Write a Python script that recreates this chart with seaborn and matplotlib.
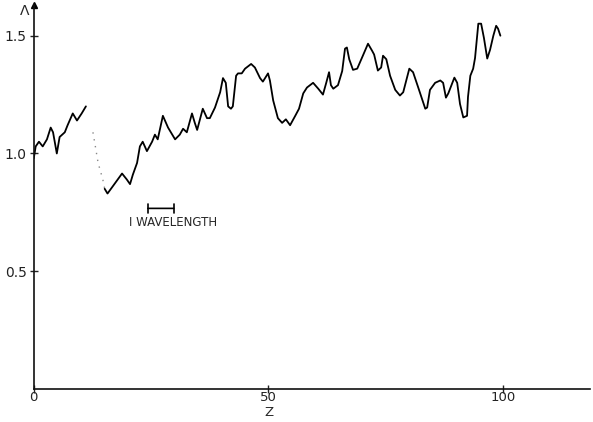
import numpy as np
import pandas as pd
import matplotlib
matplotlib.use("Agg")
import matplotlib.pyplot as plt
import seaborn as sns

# traced curve, left piece
seg1_z = [0.0, 0.4, 1.1, 1.9, 2.8, 3.6, 4.1, 4.9, 5.5, 6.6, 7.2, 8.3, 9.2, 10.2, 11.1]
seg1_a = [0.98, 1.03, 1.05, 1.03, 1.06, 1.11, 1.09, 1.00, 1.07, 1.09, 1.12, 1.17, 1.14, 1.17, 1.20]

# faint part of the scan
gap_z = [12.6, 13.2, 13.7, 14.7, 15.1]
gap_a = [1.09, 1.02, 0.96, 0.89, 0.85]

# main piece
seg2_z = [15.1, 15.7, 16.8, 18.8, 19.8, 20.5, 21.1, 22.0, 22.6, 23.2, 24.1, 25.2, 25.8,
          26.4, 27.5, 28.6, 30.1, 31.1, 31.8, 32.6, 33.7, 34.3, 34.8, 36.0, 36.9, 37.5,
          38.6, 39.7, 40.3, 40.9, 41.4, 42.0, 42.4, 43.1, 43.5, 44.3, 45.0, 46.3, 47.1,
          48.2, 48.8, 49.9, 50.3, 51.0, 52.0, 52.9, 53.7, 54.6, 55.7, 56.5, 57.4, 58.2,
          59.5, 60.6, 61.6, 62.3, 62.9, 63.3, 63.8, 64.8, 65.7, 66.3, 66.7, 67.2, 68.0,
          68.9, 70.1, 71.2, 72.1, 72.5, 73.3, 74.0, 74.4, 75.1, 75.9, 77.0, 78.0, 78.7,
          80.0, 80.8, 81.9, 83.4, 83.8, 84.4, 85.5, 86.6, 87.2, 87.8, 88.3, 89.6, 90.2,
          90.8, 91.5, 92.3, 92.5, 93.0, 93.6, 94.0, 94.7, 95.3, 95.9, 96.6, 97.2, 97.9,
          98.5, 98.9, 99.4]
seg2_a = [0.85, 0.83, 0.86, 0.915, 0.89, 0.87, 0.91, 0.96, 1.03, 1.05, 1.01, 1.05, 1.08,
          1.06, 1.16, 1.11, 1.06, 1.08, 1.105, 1.09, 1.17, 1.13, 1.10, 1.19, 1.15, 1.15,
          1.195, 1.26, 1.32, 1.30, 1.20, 1.19, 1.20, 1.33, 1.34, 1.34, 1.36, 1.38, 1.365,
          1.32, 1.305, 1.34, 1.31, 1.225, 1.15, 1.13, 1.145, 1.12, 1.16, 1.19, 1.255, 1.28,
          1.30, 1.275, 1.25, 1.30, 1.345, 1.29, 1.275, 1.29, 1.35, 1.445, 1.45, 1.40, 1.355,
          1.36, 1.415, 1.466, 1.435, 1.42, 1.352, 1.365, 1.415, 1.40, 1.33, 1.27, 1.246, 1.26,
          1.36, 1.345, 1.28, 1.19, 1.195, 1.27, 1.30, 1.31, 1.30, 1.237, 1.255, 1.322, 1.30,
          1.21, 1.153, 1.16, 1.24, 1.33, 1.36, 1.405, 1.551, 1.551, 1.49, 1.403, 1.44, 1.50,
          1.542, 1.53, 1.50]

xticks = [0, 50, 100]
yticks = [0.5, 1.0, 1.5]
ytick_labels = ["0.5", "1.0", "1.5"]

sns.set_style("ticks")
plt.rcParams['font.family'] = ['DejaVu Sans']

fig = plt.figure(figsize=(5.93, 4.22), dpi=100)
ax = fig.add_axes([0.057, 0.078, 0.938, 0.91])

line_kw = dict(solid_joinstyle="round", solid_capstyle="round")
sns.lineplot(x=seg1_z, y=seg1_a, ax=ax, color="black", lw=1.3, sort=False, **line_kw)
sns.lineplot(x=gap_z, y=gap_a, ax=ax, color="#888888", lw=1.0, linestyle=(0, (1, 4)), sort=False)
sns.lineplot(x=seg2_z, y=seg2_a, ax=ax, color="black", lw=1.3, sort=False, **line_kw)

ax.set_xlim(0, 118.5)
ax.set_ylim(0, 1.63)
ax.set_xticks(xticks)
ax.set_xticklabels([str(t) for t in xticks])
ax.set_yticks(yticks)
ax.set_yticklabels(ytick_labels)
ax.tick_params(direction="inout", length=6, width=1, labelsize=10, colors="#222222")
ax.tick_params(axis="x", pad=-1.5, labelsize=9.5)
ax.tick_params(axis="y", pad=2)

for s in ["top", "right"]:
    ax.spines[s].set_visible(False)
for s in ["left", "bottom"]:
    ax.spines[s].set_linewidth(1.2)
    ax.spines[s].set_color("#111111")

# arrow at top of the y axis
ax.plot([0], [1.63], marker="^", color="black", markersize=5, clip_on=False)
ax.text(-1.0, 1.605, "Λ", ha="right", va="center", fontsize=10)

ax.set_xlabel("")
ax.set_ylabel("")
fig.text((34 + 50 * 4.69) / 593, 1 - 413 / 422, "Z", ha="center", va="center", fontsize=9.5)

# one wavelength marker
ax.annotate("", xy=(23.7, 0.767), xytext=(30.4, 0.767),
            arrowprops=dict(arrowstyle="|-|", mutation_scale=3, lw=1.2, color="black"))
ax.text(20.3, 0.705, "I WAVELENGTH", ha="left", va="center", fontsize=8.5)

fig.savefig("out.png", dpi=100)
